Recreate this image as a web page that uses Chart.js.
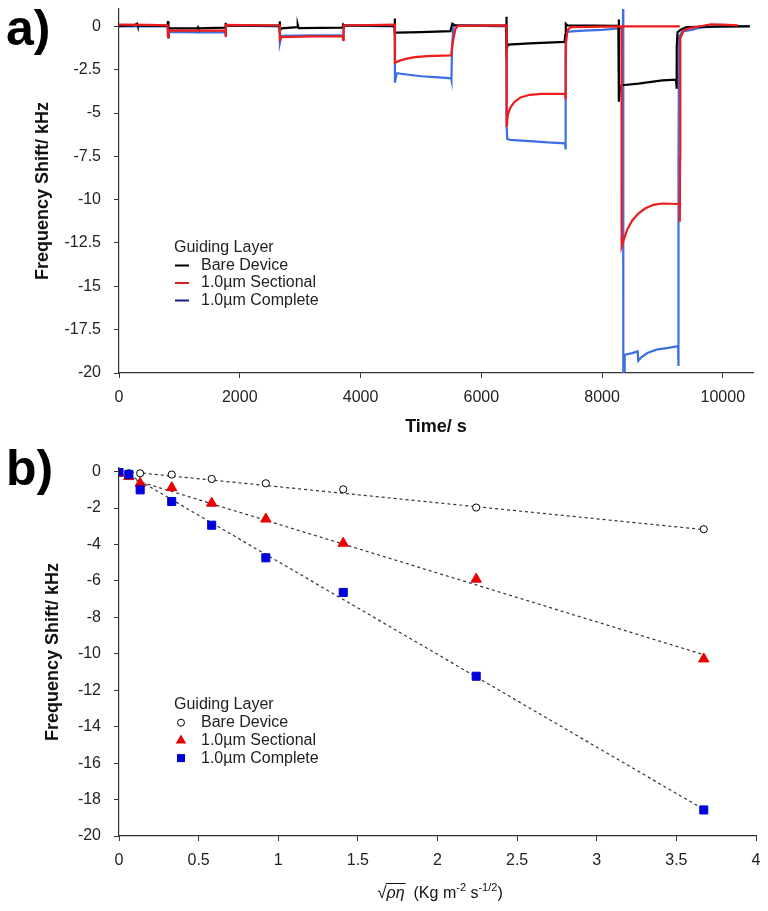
<!DOCTYPE html>
<html>
<head>
<meta charset="utf-8">
<script src="https://cdn.jsdelivr.net/npm/chart.js@4.4.1/dist/chart.umd.min.js"></script>
<style>
  body { margin: 0; background: #fff; }
  #traceChart { position: absolute; left: 0; top: 0; }
  #slopeChart { position: absolute; left: 0; top: 440px; }
</style>
</head>
<body>
<canvas id="traceChart" width="768" height="440"></canvas>
<canvas id="slopeChart" width="768" height="471"></canvas>
<script>
const FONT = '"Liberation Sans", Arial, sans-serif';
Chart.defaults.font.family = FONT;

const legendTitle = 'Guiding Layer';
const seriesNames = ['Bare Device', '1.0µm Sectional', '1.0µm Complete'];

// tick labels
const timeTicks = [0, 2000, 4000, 6000, 8000, 10000];
const traceTicks = [-20, -17.5, -15, -12.5, -10, -7.5, -5, -2.5, 0];
const rootTicks = [0, 0.5, 1, 1.5, 2, 2.5, 3, 3.5, 4];
const slopeTicks = [-20, -18, -16, -14, -12, -10, -8, -6, -4, -2, 0];

// a) frequency shift vs time (s, kHz)
const bareTime = [0, 250, 300, 310, 800, 812, 814, 825, 1300, 1310, 1320, 1760, 1767, 1775,
  2655, 2662, 2665, 2690, 2950, 2960, 2975, 3700, 3713, 3725,
  4560, 4567, 4570, 4600, 5000, 5490, 5500, 5520, 5560,
  6410, 6417, 6420, 6440, 6800, 7380, 7390, 7400, 7430,
  8270, 8277, 8280, 8300, 8330, 8600, 9000, 9225, 9233, 9240, 9250, 9300, 9400, 10000, 10447];
const bareShift = [0.03, 0.05, 0.15, 0.04, 0.03, 0.3, -0.7, -0.12, -0.12, -0.05, -0.12, -0.08, 0.2, 0.05,
  0.04, 0.3, -0.25, -0.12, -0.05, 0.1, -0.1, -0.08, 0.1, 0.05,
  0.03, 0.45, -0.4, -0.36, -0.33, -0.28, -0.12, 0.15, 0.06,
  0.04, 0.55, -1.35, -1.05, -0.98, -0.9, -0.5, 0.15, 0.05,
  0.03, 0.4, -4.35, -3.45, -3.4, -3.3, -3.12, -3.08, -3.6, -1.2, -0.35, -0.2, -0.05, 0.0, 0.0];

const sectTime = [0, 500, 805, 812, 825, 1760, 1767, 1772,
  2662, 2665, 2690, 3200, 3705, 3713, 3720,
  4567, 4570, 4650, 4750, 4900, 5100, 5500, 5506, 5530, 5570, 5620,
  6417, 6420, 6440, 6480, 6550, 6650, 6800, 7000, 7388, 7394, 7400, 7430, 7480,
  8322, 9288, 9288,
  8322, 8325, 8360, 8420, 8500, 8600, 8720, 8850, 9000, 9280, 9288, 9292, 9296, 9350, 9450, 9700, 9800, 10000, 10249];
const sectShift = [0.1, 0.08, 0.06, -0.6, -0.25, -0.23, -0.62, 0.08,
  0.05, -0.75, -0.62, -0.58, -0.56, -0.8, 0.05,
  0.1, -2.1, -1.98, -1.88, -1.78, -1.72, -1.68, -1.5, -0.9, -0.15, 0.03,
  0.05, -5.8, -5.1, -4.7, -4.35, -4.1, -3.95, -3.9, -3.88, -4.2, -1.0, -0.2, -0.05,
  0.0, 0.0, null,
  0.0, -12.7, -12.3, -11.7, -11.2, -10.8, -10.5, -10.3, -10.22, -10.25, -11.27, -7.6, -0.7, -0.25, -0.1, 0.05, 0.12, 0.1, 0.05];

const compTime = [0, 805, 812, 825, 1300, 1760, 1767, 1772,
  2662, 2665, 2690, 3200, 3705, 3713, 3720,
  4567, 4570, 4600, 4700, 5000, 5300, 5500, 5506, 5515, 5540, 5600,
  6417, 6420, 6430, 6480, 6800, 7100, 7388, 7394, 7400, 7410, 7440, 7700, 8000,
  8345, 8349, 8352, 8370, 8375, 8500, 8590, 8600, 8650, 8750, 8900, 9100, 9260, 9264, 9268, 9275,
  9330, 9500, 9600, 9700, 10447];
const compShift = [0.0, 0.0, -0.55, -0.32, -0.35, -0.35, -0.55, 0.05,
  0.0, -0.95, -0.55, -0.52, -0.5, -0.7, 0.05,
  0.0, -3.25, -2.7, -2.75, -2.88, -2.95, -3.0, -3.1, -1.2, 0.1, 0.05,
  0.0, -5.8, -6.5, -6.55, -6.62, -6.7, -6.75, -7.1, -2.0, -0.4, -0.3, -0.25, -0.2,
  -0.1, 1.0, -19.95, -19.9, -18.95, -18.85, -18.75, -19.3, -19.1, -18.85, -18.65, -18.55, -18.45, -19.6, -7.7, -0.6,
  -0.3, -0.2, -0.1, -0.05, 0.02];

// b) frequency shift vs sqrt(rho*eta)
const rootRhoEta = [0, 0.062, 0.133, 0.331, 0.582, 0.922, 1.408, 2.243, 3.672];
const bareDrop = [0, -0.09, -0.09, -0.16, -0.4, -0.64, -0.97, -1.97, -3.16];
const sectDrop = [-0.09, -0.27, -0.64, -0.88, -1.73, -2.6, -3.93, -5.9, -10.28];
const compDrop = [0, -0.15, -1.0, -1.64, -2.94, -4.73, -6.63, -11.23, -18.57];
const trendX = [0, 3.672];
const bareTrend = [0.05, -3.18];
const sectTrend = [-0.2, -10.05];
const compTrend = [0.15, -18.54];

const xy = (xs, ys) => xs.map((x, i) => ({ x: x, y: ys[i] }));

function axis(min, max, tickValues, pad, extra) {
  return Object.assign({
    type: 'linear',
    min: min,
    max: max,
    grid: { drawOnChartArea: false, drawTicks: true, tickLength: 5, color: '#333', lineWidth: 1 },
    border: { display: true, color: '#333', width: 1.2 },
    ticks: { color: '#222', font: { size: 16 }, padding: pad, callback: v => String(v) },
    afterBuildTicks: s => { s.ticks = tickValues.map(v => ({ value: v })); }
  }, extra);
}

// panel letter + "Guiding Layer" key
const guideLegend = {
  id: 'guideLegend',
  afterDraw(chart, args, o) {
    const ctx = chart.ctx;
    ctx.save();
    ctx.fillStyle = '#000';
    ctx.font = 'bold 50px ' + FONT;
    ctx.textBaseline = 'alphabetic';
    ctx.fillText(o.panel, 6, 45);

    ctx.font = '16px ' + FONT;
    ctx.fillStyle = '#222';
    ctx.textBaseline = 'middle';
    ctx.fillText(legendTitle, 174, o.y);
    seriesNames.forEach((name, i) => {
      const y = o.y + o.gap * (i + 1);
      const m = o.marks[i];
      ctx.fillStyle = '#222';
      ctx.fillText(name, 201, y);
      ctx.beginPath();
      if (m.kind === 'line') {
        ctx.strokeStyle = m.color; ctx.lineWidth = 2;
        ctx.moveTo(175, y); ctx.lineTo(189, y); ctx.stroke();
      } else if (m.kind === 'circle') {
        ctx.arc(181, y, 3.5, 0, Math.PI * 2);
        ctx.fillStyle = '#fff'; ctx.fill();
        ctx.strokeStyle = '#000'; ctx.lineWidth = 1; ctx.stroke();
      } else if (m.kind === 'triangle') {
        ctx.moveTo(181, y - 6); ctx.lineTo(186.2, y + 3); ctx.lineTo(175.8, y + 3); ctx.closePath();
        ctx.fillStyle = m.color; ctx.fill();
      } else {
        ctx.fillStyle = m.color; ctx.fillRect(177, y - 4, 8, 8);
      }
    });

    if (o.rootLabel) {
      const base = 458, cx = 440;
      const pieces = [
        { t: '√', f: '17px ' + FONT, dy: 0 },
        { t: 'ρη', f: 'italic 16px ' + FONT, dy: 0, bar: true },
        { t: '  (Kg m', f: '16px ' + FONT, dy: 0 },
        { t: '-2', f: '11px ' + FONT, dy: -7 },
        { t: ' s', f: '16px ' + FONT, dy: 0 },
        { t: '-1/2', f: '11px ' + FONT, dy: -7 },
        { t: ')', f: '16px ' + FONT, dy: 0 }
      ];
      let total = 0;
      pieces.forEach(p => { ctx.font = p.f; p.w = ctx.measureText(p.t).width; total += p.w; });
      let x = cx - total / 2;
      ctx.fillStyle = '#111';
      ctx.textBaseline = 'alphabetic';
      pieces.forEach(p => {
        ctx.font = p.f;
        ctx.fillText(p.t, x, base + p.dy);
        if (p.bar) {
          ctx.beginPath(); ctx.strokeStyle = '#111'; ctx.lineWidth = 1;
          ctx.moveTo(x - 1, base - 14.5); ctx.lineTo(x + p.w + 1, base - 14.5); ctx.stroke();
        }
        x += p.w;
      });
    }
    ctx.restore();
  }
};

new Chart(document.getElementById('traceChart'), {
  type: 'scatter',
  data: {
    datasets: [
      { label: seriesNames[1], data: xy(sectTime, sectShift), borderColor: '#ee1c1c', order: 1 },
      { label: seriesNames[0], data: xy(bareTime, bareShift), borderColor: '#000000', order: 2 },
      { label: seriesNames[2], data: xy(compTime, compShift), borderColor: '#3d6fe3', order: 3 }
    ]
  },
  options: {
    responsive: false,
    animation: false,
    showLine: true,
    spanGaps: false,
    elements: { point: { radius: 0, hoverRadius: 0 }, line: { borderWidth: 2.2, tension: 0 } },
    layout: { padding: { left: 0, top: 9, right: 15, bottom: 0 } },
    plugins: {
      legend: { display: false },
      tooltip: { enabled: false },
      guideLegend: {
        panel: 'a)', y: 248, gap: 17.5,
        marks: [{ kind: 'line', color: '#000' }, { kind: 'line', color: '#d22020' }, { kind: 'line', color: '#14208c' }]
      }
    },
    scales: {
      x: axis(0, 10500, timeTicks, 10, {
        title: { display: true, text: 'Time/ s', color: '#111', font: { size: 18, weight: 'bold' }, padding: { top: 0, bottom: 2 } },
        afterFit: s => { s.height = 67; s.paddingLeft = 0; s.paddingRight = 0; }
      }),
      y: axis(-20, 1, traceTicks, 13, {
        title: { display: true, text: 'Frequency Shift/ kHz', color: '#111', font: { size: 18, weight: 'bold' }, padding: { top: 32, bottom: 0 } },
        afterFit: s => { s.width = 119; s.paddingTop = 0; s.paddingBottom = 0; }
      })
    }
  },
  plugins: [guideLegend]
});

new Chart(document.getElementById('slopeChart'), {
  type: 'scatter',
  data: {
    datasets: [
      { label: seriesNames[2], data: xy(rootRhoEta, compDrop), pointStyle: 'rect', pointRadius: 5.7,
        backgroundColor: '#0000dc', borderColor: '#0000dc', borderWidth: 1, order: 1 },
      { label: seriesNames[1], data: xy(rootRhoEta, sectDrop), pointStyle: 'triangle', pointRadius: 6,
        backgroundColor: '#e80000', borderColor: '#e80000', borderWidth: 1, order: 2 },
      { label: seriesNames[0], data: xy(rootRhoEta, bareDrop), pointStyle: 'circle', pointRadius: 3.6,
        backgroundColor: '#fff', borderColor: '#000', borderWidth: 1, order: 3 },
      { label: 'bare fit', data: xy(trendX, bareTrend), showLine: true, pointRadius: 0, order: 4 },
      { label: 'sectional fit', data: xy(trendX, sectTrend), showLine: true, pointRadius: 0, order: 5 },
      { label: 'complete fit', data: xy(trendX, compTrend), showLine: true, pointRadius: 0, order: 6 }
    ]
  },
  options: {
    responsive: false,
    animation: false,
    elements: { line: { borderColor: '#333', borderWidth: 1.2, borderDash: [3, 3], tension: 0 }, point: { hoverRadius: 0 } },
    layout: { padding: { left: 0, top: 28, right: 12, bottom: 0 } },
    plugins: {
      legend: { display: false },
      tooltip: { enabled: false },
      guideLegend: {
        panel: 'b)', y: 265, gap: 17.7, rootLabel: true,
        marks: [{ kind: 'circle' }, { kind: 'triangle', color: '#e80000' }, { kind: 'rect', color: '#0000dc' }]
      }
    },
    scales: {
      x: axis(0, 4, rootTicks, 10, {
        afterFit: s => { s.height = 75; s.paddingLeft = 0; s.paddingRight = 0; }
      }),
      y: axis(-20, 0.2, slopeTicks, 13, {
        title: { display: true, text: 'Frequency Shift/ kHz', color: '#111', font: { size: 18, weight: 'bold' }, padding: { top: 42, bottom: 0 } },
        afterFit: s => { s.width = 119; s.paddingTop = 0; s.paddingBottom = 0; }
      })
    }
  },
  plugins: [guideLegend]
});
</script>
</body>
</html>
